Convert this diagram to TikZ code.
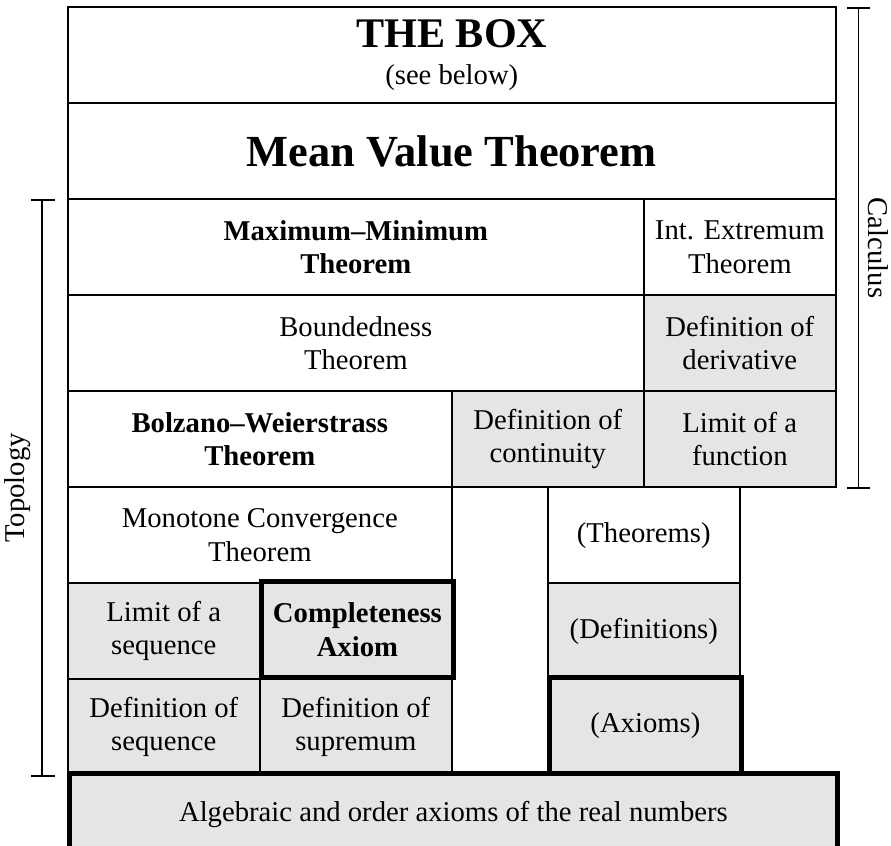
\documentclass[tikz,border=0pt]{standalone}
\usepackage{fontspec}
\setmainfont{Liberation Serif}
\definecolor{cellgray}{HTML}{E5E5E5}

\begin{document}
\begin{tikzpicture}[x=1.2cm, y=1.2cm, line width=0.55pt,
  cell/.style={draw, anchor=south west, minimum height=1.2cm, inner sep=0pt,
    align=center, font=\fontsize{10.2}{11.8}\selectfont},
  defcell/.style={cell, fill=cellgray},
  thm/.style={font=\fontsize{10.2}{11.8}\selectfont\bfseries},
  keycell/.style={line width=1.7pt},
  side/.style={font=\fontsize{10.2}{11.8}\selectfont}]

% Page
\useasboundingbox (-0.698,-0.729) rectangle (8.583,8.083);

% Top of the tower
\node[cell, minimum width=9.6cm] (thebox) at (0,7)
  {{\fontsize{15}{17}\selectfont\bfseries THE BOX}\\[1.5pt](see below)};
\node[cell, thm, minimum width=9.6cm, font=\fontsize{15.8}{19}\selectfont\bfseries] (mvt) at (0,6)
  {Mean Value Theorem};

% Calculus rows
\node[cell, thm, minimum width=7.2cm] (maxmin) at (0,5) {Maximum--Minimum\\Theorem};
\node[cell, minimum width=2.4cm] (intext) at (6,5) {Int. Extremum\\Theorem};
\node[cell, minimum width=7.2cm] (bounded) at (0,4) {Boundedness\\Theorem};
\node[defcell, minimum width=2.4cm] (defderiv) at (6,4) {Definition of\\derivative};
\node[cell, thm, minimum width=4.8cm] (bolzano) at (0,3) {Bolzano--Weierstrass\\Theorem};
\node[defcell, minimum width=2.4cm] (defcont) at (4,3) {Definition of\\continuity};
\node[defcell, minimum width=2.4cm] (limfun) at (6,3) {Limit of a\\function};

% Sequences and supremum
\node[cell, minimum width=4.8cm] (monotone) at (0,2) {Monotone Convergence\\Theorem};
\node[defcell, minimum width=2.4cm] (limseq) at (0,1) {Limit of a\\sequence};
\node[defcell, minimum width=2.4cm] (defseq) at (0,0) {Definition of\\sequence};
\node[defcell, minimum width=2.4cm] (defsup) at (2,0) {Definition of\\supremum};
\node[defcell, thm, keycell, minimum width=2.4cm] (complete) at (2,1) {Completeness\\Axiom};

% Legend
\node[cell, minimum width=2.4cm] (theorems) at (5,2) {(Theorems)};
\node[defcell, minimum width=2.4cm] (defs) at (5,1) {(Definitions)};
\node[defcell, keycell, minimum width=2.4cm] (axioms) at (5,0) {(Axioms)};

% Foundation
\node[defcell, keycell, minimum width=9.6cm, minimum height=1.02cm] (reals) at (0,-0.85)
  {Algebraic and order axioms of the real numbers};

% Calculus bracket
\draw (8.125,8) -- (8.365,8) (8.245,8) -- (8.245,3) (8.125,3) -- (8.365,3);
\node[side, rotate=-90] (calc) at (8.45,5.5) {Calculus};

% Topology bracket
\draw (-0.375,6) -- (-0.125,6) (-0.26,6) -- (-0.26,0) (-0.375,0) -- (-0.125,0);
\node[side, rotate=90] (topo) at (-0.51,3) {Topology};

\end{tikzpicture}
\end{document}
